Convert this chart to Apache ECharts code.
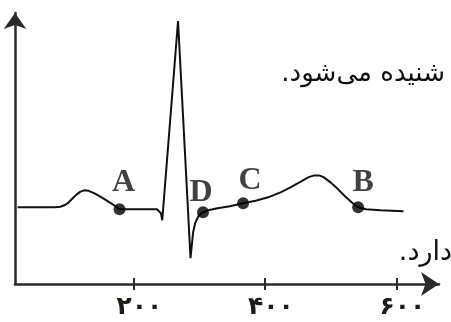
<!DOCTYPE html>
<html>
<head>
<meta charset="utf-8">
<script src="https://cdn.jsdelivr.net/npm/echarts@6/dist/echarts.min.js"></script>
<style>
  html, body { margin: 0; padding: 0; background: #fff; }
  #chart { width: 451px; height: 322px; }
</style>
</head>
<body>
<div id="chart"></div>
<script>
// ECG trace (x in time units, y in arbitrary height)
const ecgX = [24, 59, 81, 89, 95, 101, 107, 113, 119, 125, 132, 141, 153, 165, 173, 179, 211, 236, 238, 242, 244,
  268, 287, 289, 291, 294, 299, 303, 306, 314, 328, 347, 367, 386, 405, 424, 439, 454, 466, 475, 483, 490, 500, 510,
  522, 532, 542, 554, 576, 611];
const ecgY = [77, 77, 77, 77.5, 79, 81.5, 85.5, 89.5, 92.5, 94, 93.5, 91, 86.5, 81.5, 78, 75, 75, 75, 74.5, 71, 64,
  264, 26, 39, 52, 61, 68, 71, 72, 74, 76, 78, 81, 83.5, 87, 92, 97, 102.5, 107, 109, 109, 107, 102, 96,
  88, 82, 77, 75, 74, 73];

// marked points
const pointNames = ['A', 'D', 'C', 'B'];
const pointX = [179, 306, 367, 542];
const pointY = [75, 72, 81, 77];

// x axis ticks
const tickValues = [200, 400, 600];
const tickLabels = ['۲۰۰', '۴۰۰', '۶۰۰'];

// label nudges (style only)
const labelOffsets = [[4, -27], [-2, -20], [7, -23], [5, -25]];

const chart = echarts.init(document.getElementById('chart'));

const lineData = ecgX.map((x, i) => [x, ecgY[i]]);
const pointData = pointNames.map((n, i) => ({
  name: n,
  value: [pointX[i], pointY[i]],
  label: { offset: labelOffsets[i] }
}));

const axisColor = '#2a2a2a';
const RLM = '\u200F';

chart.setOption({
  animation: false,
  grid: { left: 15, right: 12, top: 13, bottom: 38, outerBoundsMode: 'none' },
  xAxis: [
    {
      type: 'value',
      min: 20,
      max: 665,
      axisLine: {
        lineStyle: { color: axisColor, width: 2.5 },
        symbol: ['none', 'arrow'],
        symbolSize: [18, 18]
      },
      axisTick: { customValues: tickValues, length: 6, lineStyle: { color: axisColor, width: 2 } },
      axisLabel: {
        customValues: tickValues,
        formatter: v => tickLabels[tickValues.indexOf(v)],
        fontFamily: 'DejaVu Sans',
        fontWeight: 'bold',
        fontSize: 25,
        color: '#1e1a16',
        padding: [0, 0, 0, 12],
        margin: 11
      },
      splitLine: { show: false }
    },
    {
      // upper half of the crossing ticks
      type: 'value',
      position: 'top',
      offset: -271,
      min: 20,
      max: 665,
      axisLine: { show: false },
      axisTick: { customValues: tickValues, length: 6, lineStyle: { color: axisColor, width: 2 } },
      axisLabel: { show: false },
      splitLine: { show: false }
    }
  ],
  yAxis: {
    type: 'value',
    min: 0,
    max: 272,
    axisLine: {
      show: true,
      lineStyle: { color: axisColor, width: 2.5 },
      symbol: ['none', 'arrow'],
      symbolSize: [17, 16]
    },
    axisTick: { show: false },
    axisLabel: { show: false },
    splitLine: { show: false }
  },
  graphic: [
    {
      type: 'text',
      x: 445,
      y: 74,
      style: {
        text: RLM + 'شنیده می‌شود.' + RLM,
        align: 'right',
        verticalAlign: 'middle',
        font: '26px "DejaVu Sans"',
        fill: '#111'
      }
    },
    {
      type: 'text',
      x: 452,
      y: 253,
      style: {
        text: RLM + 'دارد.' + RLM,
        align: 'right',
        verticalAlign: 'middle',
        font: '27px "DejaVu Sans"',
        fill: '#111'
      }
    }
  ],
  series: [
    {
      type: 'line',
      data: lineData,
      showSymbol: false,
      lineStyle: { color: '#111', width: 2 },
      z: 2
    },
    {
      type: 'scatter',
      data: pointData,
      symbolSize: 12,
      itemStyle: { color: '#000' },
      label: {
        show: true,
        position: 'inside',
        formatter: p => p.name,
        fontFamily: 'Liberation Serif',
        fontWeight: 'bold',
        fontSize: 32,
        color: '#111'
      },
      z: 3
    }
  ]
});
</script>
</body>
</html>
